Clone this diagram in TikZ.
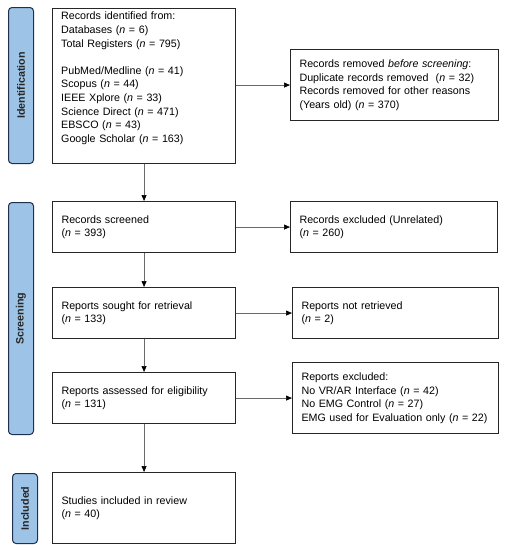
\documentclass[tikz,border=0pt]{standalone}
\usepackage{fontspec}
\setmainfont{Liberation Sans}
\usetikzlibrary{arrows.meta}
\definecolor{barfill}{HTML}{9DC3E6}
\definecolor{barline}{HTML}{1F2F4F}
\definecolor{arrgray}{HTML}{6A6A6A}
\tikzset{
  x=1pt, y=-1pt,
  every node/.style={font=\fontsize{10.7}{13.6}\selectfont},
  boxnode/.style={draw=black!85, line width=1.1pt, anchor=north west, align=left, inner xsep=9pt, inner ysep=0pt},
  txtnode/.style={anchor=north west, align=left, inner xsep=9pt, inner ysep=4pt},
  barnode/.style={draw=barline, fill=barfill, line width=1pt, rounded corners=3.5pt, anchor=north west, inner sep=0pt},
  bartext/.style={rotate=90, font=\fontsize{10.7}{12}\selectfont\bfseries, text=black!85},
  arr/.style={draw=arrgray, line width=0.7pt, -{Triangle[length=6pt,width=5pt,color=black]}}
}
\begin{document}
\begin{tikzpicture}
\useasboundingbox (0,0) rectangle (506,550);
% phase bars
\node[barnode, minimum width=25pt, minimum height=156pt] (bid) at (8,7) {};
\node[bartext] (bidt) at (bid.center) {Identification};
\node[barnode, minimum width=25pt, minimum height=232pt] (bsc) at (8,202) {};
\node[bartext] (bsct) at (bsc.center) {Screening};
\node[barnode, minimum width=25pt, minimum height=70pt] (bin) at (12,473) {};
\node[bartext] (bint) at (bin.center) {Included};
% main column
\node[boxnode, minimum width=183pt, minimum height=155pt] (id) at (52,8) {};
\node[txtnode, text width=165pt] (idt) at (52,8) {Records identified from:\\Databases (\textit{n} = 6)\\Total Registers (\textit{n} = 795)\\[13.6pt]PubMed/Medline (\textit{n} = 41)\\Scopus (\textit{n} = 44)\\IEEE Xplore (\textit{n} = 33)\\Science Direct (\textit{n} = 471)\\EBSCO (\textit{n} = 43)\\Google Scholar (\textit{n} = 163)};
\node[boxnode, minimum width=183pt, minimum height=51pt, text width=165pt] (scr) at (52,201) {Records screened\\(\textit{n} = 393)};
\node[boxnode, minimum width=183pt, minimum height=51pt, text width=165pt] (sou) at (52,287) {Reports sought for retrieval\\(\textit{n} = 133)};
\node[boxnode, minimum width=183pt, minimum height=51pt, text width=165pt] (ass) at (52,372) {Reports assessed for eligibility\\(\textit{n} = 131)};
\node[boxnode, minimum width=183pt, minimum height=71pt, text width=165pt] (inc) at (52,472) {Studies included in review\\(\textit{n} = 40)};
% right column
\node[boxnode, minimum width=208pt, minimum height=71pt, text width=190pt] (rem) at (290,49) {Records removed \textit{before screening}:\\Duplicate records removed~~(\textit{n} = 32)\\Records removed for other reasons\\(Years old) (\textit{n} = 370)};
\node[boxnode, minimum width=207pt, minimum height=51pt, text width=189pt] (exc) at (290,201) {Records excluded (Unrelated)\\(\textit{n} = 260)};
\node[boxnode, minimum width=206pt, minimum height=51pt, text width=188pt] (nre) at (292,287) {Reports not retrieved\\(\textit{n} = 2)};
\node[boxnode, minimum width=206pt, minimum height=71pt, text width=188pt] (rex) at (292,362) {Reports excluded:\\No VR/AR Interface (\textit{n} = 42)\\No EMG Control (\textit{n} = 27)\\EMG used for Evaluation only (\textit{n} = 22)};
% connectors
\draw[arr] (id.south) -- (scr.north);
\draw[arr] (scr.south) -- (sou.north);
\draw[arr] (sou.south) -- (ass.north);
\draw[arr] (ass.south) -- (inc.north);
\draw[arr] (rem.west -| id.east) -- (rem.west);
\draw[arr] (scr.east) -- (exc.west);
\draw[arr] (sou.east) -- (nre.west);
\draw[arr] (rex.west -| ass.east) -- (rex.west);
\end{tikzpicture}
\end{document}
